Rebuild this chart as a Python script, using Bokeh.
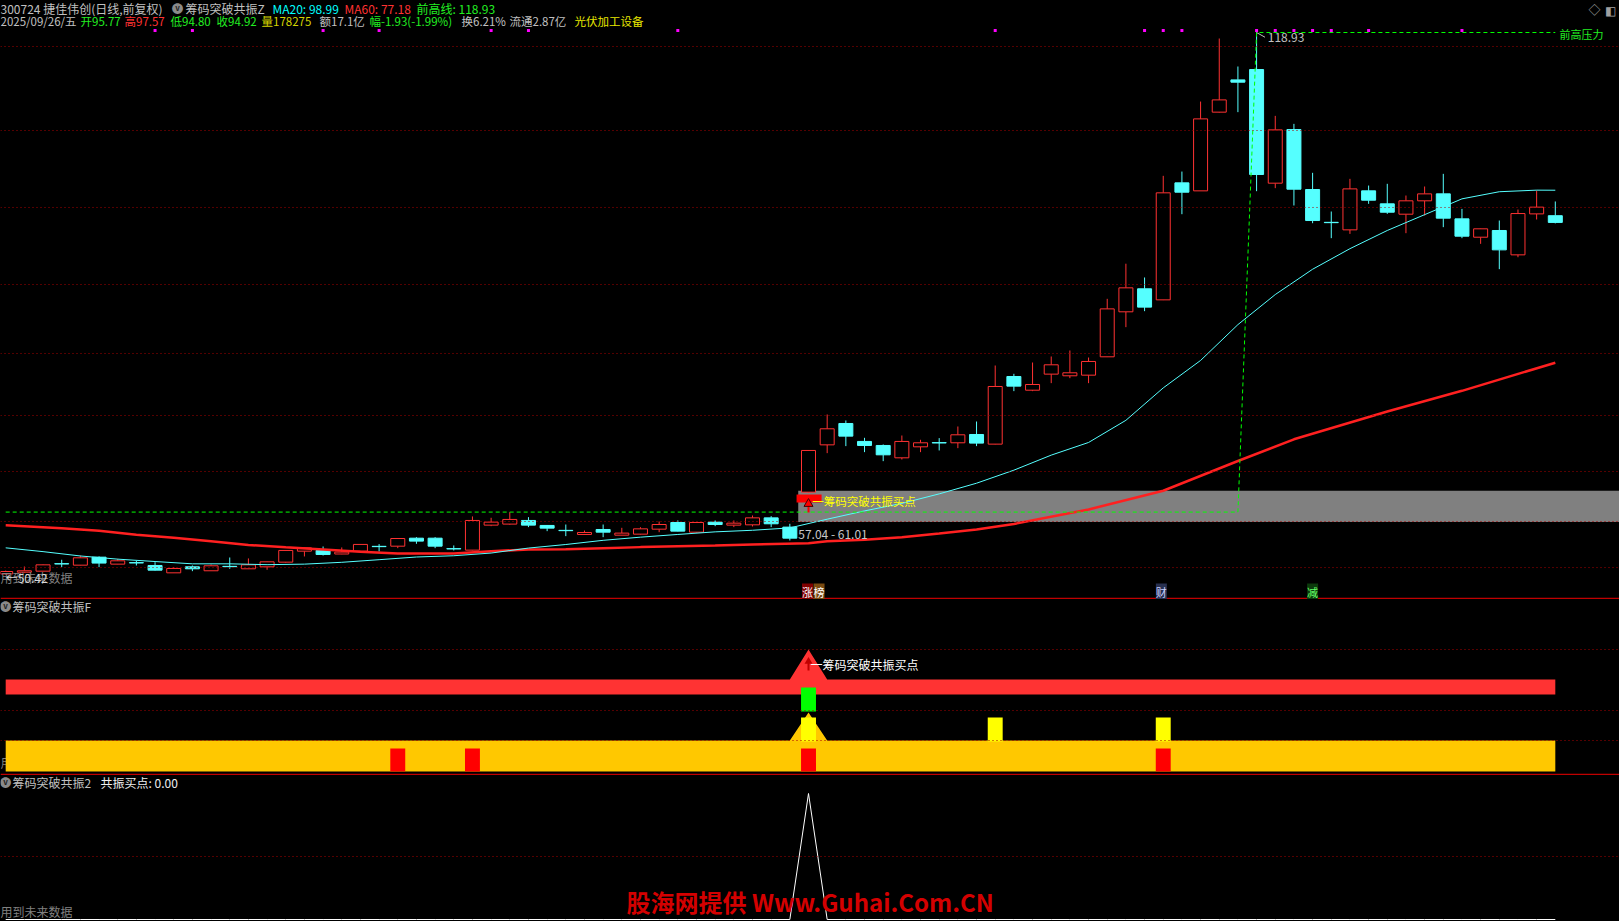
import numpy as np
from bokeh.plotting import figure
from bokeh.models import Range1d, Span, Label
from bokeh.layouts import column
from bokeh.embed import file_html
from bokeh.resources import INLINE

# ---------------- data ----------------
opens = [50.48, 50.70, 50.83, 51.78, 51.59, 52.60, 51.72, 51.91, 51.55, 50.62,
         51.38, 50.88, 51.44, 51.13, 51.38, 51.97, 53.36, 53.45, 53.00, 53.36,
         53.97, 53.99, 55.00, 55.00, 53.68, 53.49, 56.65, 56.78, 57.24, 56.61,
         55.99, 55.47, 56.10, 55.38, 55.51, 56.14, 56.98, 55.76, 57.03, 56.65,
         56.69, 57.57, 56.40, 60.82, 66.80, 69.50, 67.23, 66.72, 65.16, 66.55,
         67.08, 67.06, 68.11, 66.89, 75.44, 73.71, 75.74, 75.53, 75.61, 77.93,
         83.62, 86.53, 85.13, 99.92, 98.91, 108.86, 112.94, 114.25, 99.88, 106.66,
         99.08, 94.93, 93.98, 98.91, 97.27, 95.96, 97.65, 98.53, 95.37, 93.05,
         93.90, 90.82, 96.00, 95.77]
highs = [50.90, 51.42, 51.70, 52.27, 52.81, 52.70, 52.39, 52.14, 51.97, 51.34,
         51.55, 51.68, 52.56, 52.44, 52.05, 53.50, 53.85, 53.95, 53.83, 54.25,
         54.25, 55.00, 55.13, 55.13, 54.08, 57.75, 57.58, 58.29, 57.66, 56.65,
         56.73, 55.97, 56.73, 56.31, 56.39, 57.11, 57.24, 57.00, 57.24, 57.24,
         57.87, 57.79, 56.82, 66.12, 70.64, 69.88, 67.69, 66.85, 67.98, 67.44,
         67.65, 69.12, 69.75, 76.83, 75.78, 77.21, 77.97, 78.73, 77.84, 85.26,
         89.70, 87.96, 100.81, 101.35, 110.20, 118.17, 114.63, 118.93, 108.39, 107.38,
         101.19, 96.30, 100.43, 99.58, 99.80, 98.32, 99.46, 101.06, 96.63, 94.15,
         95.16, 96.55, 98.95, 97.57]
lows = [50.42, 50.62, 50.80, 51.34, 51.55, 51.34, 51.70, 51.55, 50.90, 50.60,
        50.83, 50.85, 51.13, 51.10, 51.00, 51.90, 52.69, 52.81, 52.98, 53.30,
        53.32, 53.74, 54.29, 53.74, 53.45, 53.45, 56.52, 56.70, 56.40, 55.89,
        55.26, 55.45, 55.13, 55.36, 55.45, 55.76, 55.85, 55.70, 56.52, 56.40,
        56.48, 56.40, 54.71, 60.70, 65.75, 66.64, 65.88, 64.74, 64.95, 65.88,
        66.09, 66.38, 66.64, 66.85, 73.59, 73.59, 74.60, 75.23, 74.60, 77.90,
        81.68, 83.70, 85.10, 95.96, 98.90, 108.80, 108.86, 98.87, 99.25, 97.06,
        94.82, 92.93, 93.47, 97.27, 96.00, 93.56, 95.79, 94.32, 92.93, 92.21,
        89.01, 90.52, 95.29, 94.80]
closes = [50.79, 50.88, 51.63, 51.74, 52.52, 51.85, 52.14, 51.87, 50.96, 51.17,
          51.13, 51.51, 51.40, 51.63, 52.01, 53.45, 53.78, 52.94, 53.24, 54.21,
          53.93, 54.96, 54.63, 53.99, 53.64, 57.24, 57.03, 57.37, 56.65, 56.27,
          55.95, 55.72, 55.76, 55.64, 56.18, 56.73, 55.89, 56.98, 56.73, 56.90,
          57.57, 56.82, 55.00, 66.09, 68.83, 67.90, 66.72, 65.54, 67.23, 67.06,
          67.04, 68.07, 67.02, 74.18, 74.22, 74.43, 76.92, 75.91, 77.34, 83.99,
          86.65, 84.21, 98.66, 98.74, 108.01, 110.41, 112.65, 100.98, 106.62, 99.12,
          95.16, 94.89, 99.16, 97.73, 96.21, 97.65, 98.53, 95.46, 93.18, 94.11,
          91.45, 96.04, 96.85, 94.92]

ma20_idx = [0, 2, 4, 6, 8, 10, 12, 14, 16, 18, 20, 22, 24, 26, 28, 30, 32, 34, 36, 38,
            40, 42, 44, 46, 48, 50, 52, 54, 56, 58, 60, 62, 64, 66, 68, 70, 72, 74, 76,
            78, 80, 82, 83]
ma20_val = [53.78, 53.30, 52.75, 52.35, 52.05, 51.76, 51.76, 51.65, 51.72, 51.95,
            52.28, 52.62, 52.78, 53.12, 53.75, 54.20, 54.73, 55.13, 55.47, 55.80,
            56.00, 56.30, 57.40, 58.45, 59.40, 60.60, 61.95, 63.60, 65.50, 67.10,
            69.90, 74.00, 77.47, 82.00, 85.80, 89.00, 91.60, 93.90, 95.90, 97.90,
            98.80, 99.00, 98.99]
ma60_idx = [0, 3, 5, 7, 9, 11, 13, 15, 17, 19, 21, 24, 26, 28, 30, 32, 34, 38, 40, 43,
            44, 46, 48, 50, 52, 54, 58, 62, 66, 69, 74, 78, 83]
ma60_val = [56.65, 56.27, 55.93, 55.43, 55.05, 54.60, 54.15, 53.85, 53.57, 53.30,
            53.07, 53.07, 53.35, 53.57, 53.61, 53.74, 53.87, 54.08, 54.20, 54.37,
            54.60, 54.79, 55.13, 55.60, 56.10, 56.80, 58.63, 61.00, 64.76, 67.50,
            71.02, 73.63, 77.18]

prev_high_idx = [0, 66, 67, 83]
prev_high_val = [58.30, 58.30, 118.93, 118.93]

grid_prices = [117.16, 106.54, 96.81, 87.07, 78.35, 70.51, 63.43, 57.11, 51.29]
signal_dot_idx = [8, 10, 17, 20, 26, 28, 36, 53, 61, 62, 63, 67, 68, 69, 70, 71, 73, 78]
chip_low, chip_high = 57.04, 61.01
buy_idx = [43]
red_bar_idx = [21, 25, 43, 62]
yellow_bar_idx = [43, 53, 62]
green_bar_idx = [43]
event_idx = [43, 62, 70]
event_text = ["涨榜", "财", "减"]

# ---------------- styles / geometry ----------------
W = 1619
H1, H2, H3 = 599, 176, 146
X0, DX = 5.2, 18.67            # pixel of candle 0, pixels per candle
XR = ((0 - X0) / DX, (W - X0) / DX)
PX = 7.91                       # pixels per price unit
P_TOP_PIX, P_TOP = 32, 118.93
Y1 = (P_TOP - (H1 - P_TOP_PIX) / PX, P_TOP + P_TOP_PIX / PX)

RED = "#ff3232"
CYAN = "#55ffff"
GRID = "#a80000"
SEP = "#c00000"
GRAY = "#c0c0c0"
GREEN = "#22ee22"
FONT = "Noto Sans CJK SC"

n = len(opens)
idx = np.arange(n)
o = np.array(opens); c = np.array(closes); h = np.array(highs); l = np.array(lows)
up = c >= o
body_top = np.maximum(o, c)
body_bot = np.minimum(o, c)


def mkfig(height, yr):
    f = figure(width=W, height=height, x_range=Range1d(*XR), y_range=Range1d(*yr),
               output_backend="svg", toolbar_location=None, x_axis_type=None,
               y_axis_type=None, min_border=0, background_fill_color="black",
               border_fill_color="black", outline_line_color=None)
    for g in f.grid:
        g.visible = False
    return f


def txt(fig, fig_top, fig_h, x, y, text, color, size=12, bold=False, align="left",
        bg=None, xdata=False, level=None):
    kw = dict(x=x, y=fig_h - (y - fig_top), x_units="data" if xdata else "screen",
              y_units="screen", text=text, text_color=color, text_font=FONT,
              text_font_size=f"{size}px", text_baseline="middle", text_align=align)
    if bold:
        kw["text_font_style"] = "bold"
    if bg:
        kw["background_fill_color"] = bg
    if level:
        kw["level"] = level
    fig.add_layout(Label(**kw))


def icon(fig, fig_top, fig_h, x, y):
    txt(fig, fig_top, fig_h, x, y, "●", "#8a8a8a", size=12, align="center")
    txt(fig, fig_top, fig_h, x, y - 1, "v", "#222222", size=8, bold=True, align="center")


# ---------------- main price panel ----------------
p1 = mkfig(H1, Y1)
for g in grid_prices:
    p1.add_layout(Span(location=g, dimension="width", line_color=GRID,
                       line_dash="1 3", line_width=1))
p1.add_layout(Span(location=P_TOP - (598 - P_TOP_PIX) / PX, dimension="width",
                   line_color=SEP, line_width=1.5))

# chip range band
p1.quad(left=buy_idx[0] - 0.55, right=XR[1], bottom=chip_low, top=chip_high,
        fill_color="#808080", line_color=None)

# candles
col = np.where(up, RED, CYAN)
p1.segment(x0=idx, y0=body_top, x1=idx, y1=h, line_color=col, line_width=1)
p1.segment(x0=idx, y0=l, x1=idx, y1=body_bot, line_color=col, line_width=1)
p1.vbar(x=idx[up], width=0.75, top=body_top[up], bottom=body_bot[up],
        fill_color="black", line_color=RED, line_width=1)
p1.vbar(x=idx[~up], width=0.75, top=body_top[~up], bottom=body_bot[~up],
        fill_color=CYAN, line_color=CYAN, line_width=1)

# moving averages
p1.line(ma60_idx, ma60_val, line_color="#ff2020", line_width=2.5)
p1.line(ma20_idx, ma20_val, line_color=CYAN, line_width=1)

# previous-high line
p1.line(prev_high_idx, prev_high_val, line_color="#00ff00", line_dash="4 3", line_width=1)

# signal dots at the top
dot_y = Y1[1] - 30 / PX
p1.scatter(x=signal_dot_idx, y=[dot_y] * len(signal_dot_idx), marker="square",
           size=3, fill_color="#ff00ff", line_color=None)

# buy point marker
b = buy_idx[0]
p1.quad(left=b - 0.64, right=b + 0.7, bottom=59.51, top=60.52, fill_color="#ff0000",
        line_color=None)
p1.segment(x0=[b], y0=[59.6], x1=[b], y1=[58.25], line_color="#ff0000", line_width=2)
p1.scatter(x=[b], y=[59.35], marker="triangle", size=9, fill_color="#ff0000",
           line_color="#400000")
txt(p1, 0, H1, b + 0.2, 500, "一筹码突破共振买点", "#ffff00", size=11.5, xdata=True)
txt(p1, 0, H1, b - 0.55, 533, f"{chip_low:.2f} - {chip_high:.2f}", "#c8c8c8",
    size=12, xdata=True)

# extreme labels
hi_i = int(np.argmax(h))
lo_i = int(np.argmin(l))
p1.segment(x0=[hi_i], y0=[h[hi_i]], x1=[hi_i + 0.45], y1=[h[hi_i] - 0.6],
           line_color=GRAY, line_width=1)
txt(p1, 0, H1, hi_i + 0.6, 37, f"{h[hi_i]:.2f}", GRAY, size=12, xdata=True)
txt(p1, 0, H1, 0, 577, "用到未来数据", "#808080", size=12)
txt(p1, 0, H1, lo_i + 0.0, 577, f"←{l[lo_i]:.2f}", "#d8d8d8", size=12, xdata=True)
txt(p1, 0, H1, 1559, 33, "前高压力", GREEN, size=11)

# event tags
txt(p1, 0, H1, event_idx[0] - 0.35, 591, event_text[0][0], "#ffffff", size=11,
    bg="#800000", xdata=True)
txt(p1, 0, H1, event_idx[0] + 0.27, 591, event_text[0][1], "#ffffff", size=11,
    bg="#7a4a10", xdata=True)
txt(p1, 0, H1, event_idx[1] - 0.1, 591, event_text[1], "#c8d0ff", size=11,
    bg="#283050", align="center", xdata=True)
txt(p1, 0, H1, event_idx[2], 591, event_text[2], "#66ff66", size=11,
    bg="#0c3a0c", align="center", xdata=True)

# header
L1, L2 = 7.5, 20.5
txt(p1, 0, H1, 0, L1, "300724 捷佳伟创(日线,前复权)", GRAY)
icon(p1, 0, H1, 177, L1)
txt(p1, 0, H1, 185, L1, "筹码突破共振Z", GRAY)
txt(p1, 0, H1, 272, L1, f"MA20: {ma20_val[-1]:.2f}", "#00ffff")
txt(p1, 0, H1, 344, L1, f"MA60: {ma60_val[-1]:.2f}", RED)
txt(p1, 0, H1, 416, L1, f"前高线: {prev_high_val[-1]:.2f}", GREEN)
prev_close = closes[-2]
chg = closes[-1] - prev_close
line2 = [
    (0, "2025/09/26/五", GRAY),
    (80, f"开{opens[-1]:.2f}", GREEN),
    (124, f"高{highs[-1]:.2f}", RED),
    (170, f"低{lows[-1]:.2f}", GREEN),
    (216, f"收{closes[-1]:.2f}", GREEN),
    (261, "量178275", "#d4d400"),
    (319, "额17.1亿", GRAY),
    (369, f"幅{chg:.2f}({chg / prev_close * 100:.2f}%)", GREEN),
    (461, "换6.21%", GRAY),
    (509, "流通2.87亿", GRAY),
    (574, "光伏加工设备", "#e6e600"),
]
for x, t, cc in line2:
    txt(p1, 0, H1, x, L2, t, cc, size=11.5)
txt(p1, 0, H1, 1594, 9, "◇", "#a0a0a0", size=12, align="center")
txt(p1, 0, H1, 1610, 9, "◧", "#a0a0a0", size=12, align="center")

# ---------------- indicator F panel ----------------
RED_LO, RED_HI, RED_PEAK = 81, 96, 126
ORG_LO, ORG_HI, ORG_PEAK = 4, 35, 63
GREEN_LO, GREEN_HI = 64, 88
YEL_LO, YEL_HI = 34, 58
RBAR_LO, RBAR_HI = 4, 27

p2 = mkfig(H2, (0, H2))
for g in [126, 65, 35]:
    p2.add_layout(Span(location=g, dimension="width", line_color=GRID,
                       line_dash="1 3", line_width=1))
p2.add_layout(Span(location=1.0, dimension="width", line_color=SEP, line_width=1.5))
txt(p2, 599, H2, 0, 762, "用到未来数据", "#808080", size=12, level="underlay")

first, last = 0, n - 1
p2.patch([first, b - 1, b, b + 1, last, last, first],
         [RED_HI, RED_HI, RED_PEAK, RED_HI, RED_HI, RED_LO, RED_LO],
         fill_color="#ff3333", line_color=None)
p2.patch([first, b - 1, b, b + 1, last, last, first],
         [ORG_HI, ORG_HI, ORG_PEAK, ORG_HI, ORG_HI, ORG_LO, ORG_LO],
         fill_color="#ffc800", line_color=None)
p2.vbar(x=green_bar_idx, width=0.8, bottom=GREEN_LO, top=GREEN_HI,
        fill_color="#00ff00", line_color=None)
p2.vbar(x=yellow_bar_idx, width=0.8, bottom=YEL_LO, top=YEL_HI,
        fill_color="#ffff00", line_color=None)
p2.vbar(x=red_bar_idx, width=0.8, bottom=RBAR_LO, top=RBAR_HI,
        fill_color="#ff0000", line_color=None)
p2.segment(x0=[b], y0=[113], x1=[b], y1=[105], line_color="#c00000", line_width=2)
p2.scatter(x=[b], y=[114], marker="triangle", size=8, fill_color="#c00000",
           line_color=None)
txt(p2, 599, H2, b + 0.1, 664, "一筹码突破共振买点", "#ffffff", size=12, xdata=True)
icon(p2, 599, H2, 5, 606)
txt(p2, 599, H2, 12, 606, "筹码突破共振F", GRAY)

# ---------------- indicator 2 panel ----------------
resonance = [1 if i in buy_idx else 0 for i in range(n)]
p3 = mkfig(H3, (-2 / 126, 144 / 126))
p3.add_layout(Span(location=0.5, dimension="width", line_color=GRID,
                   line_dash="1 3", line_width=1))
p3.line(list(range(n)), resonance, line_color="#ffffff", line_width=1)
icon(p3, 775, H3, 5, 782)
txt(p3, 775, H3, 12, 782, "筹码突破共振2", GRAY)
txt(p3, 775, H3, 100, 782, f"共振买点: {resonance[-1]:.2f}", "#f0f0f0")
txt(p3, 775, H3, 0, 911, "用到未来数据", "#808080", size=12)
txt(p3, 775, H3, 626, 901, "股海网提供 Www.Guhai.Com.CN", "#d40000", size=24, bold=True)

layout = column(p1, p2, p3, spacing=0)
html = file_html(layout, INLINE, title="chart")
html = html.replace("<head>", "<head><style>html,body{margin:0;padding:0;background:#000;overflow:hidden;}</style>", 1)
open("out.html", "w").write(html)
